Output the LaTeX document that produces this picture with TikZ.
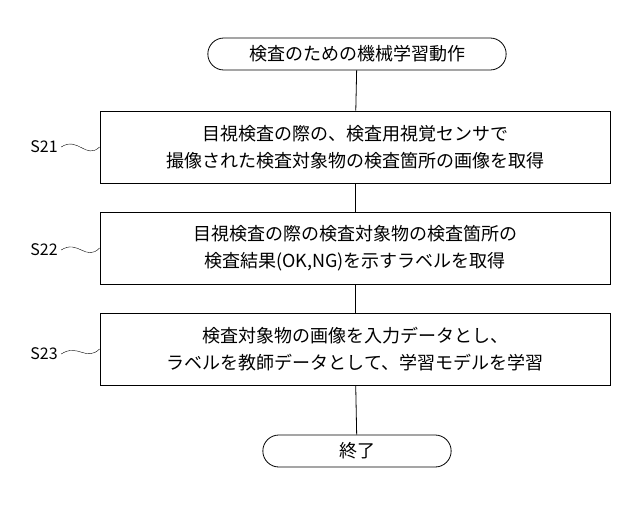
\documentclass[tikz,border=0pt]{standalone}
\usepackage{fontspec}
\setmainfont{Noto Sans CJK JP}
\usetikzlibrary{shapes.misc}
\tikzset{
  stepbox/.style={draw,thick,minimum width=510pt,minimum height=72pt,align=center,font=\fontsize{18}{27}\selectfont},
  term/.style={draw,thick,rounded rectangle,minimum height=32pt,font=\fontsize{18}{20}\selectfont},
  steplabel/.style={font=\fontsize{16}{18}\selectfont}
}
\begin{document}
\begin{tikzpicture}[x=1pt,y=-1pt]
  \useasboundingbox (0,0) rectangle (640,507);
  \node[term,minimum width=305pt] (T1) at (357,54) {検査のための機械学習動作};
  \node[stepbox] (B1) at (355,147) {目視検査の際の、検査用視覚センサで\\撮像された検査対象物の検査箇所の画像を取得};
  \node[stepbox] (B2) at (355,248) {目視検査の際の検査対象物の検査箇所の\\検査結果(OK,NG)を示すラベルを取得};
  \node[stepbox] (B3) at (355,349) {検査対象物の画像を入力データとし、\\ラベルを教師データとして、学習モデルを学習};
  \node[term,minimum width=195pt] (T2) at (357,451) {終了};

  \draw[thick] (T1) -- (B1);
  \draw[thick] (B1) -- (B2);
  \draw[thick] (B2) -- (B3);
  \draw[thick] (B3) -- (T2);

  \node[steplabel] (L1) at (44,147) {S21};
  \node[steplabel] (L2) at (44,250) {S22};
  \node[steplabel] (L3) at (44,354) {S23};
  \draw (L1.east) .. controls (78,136) and (86,160) .. (B1.west);
  \draw (L2.east) .. controls (78,239) and (86,262) .. (B2.west);
  \draw (L3.east) .. controls (78,343) and (86,362) .. (B3.west);
\end{tikzpicture}
\end{document}
